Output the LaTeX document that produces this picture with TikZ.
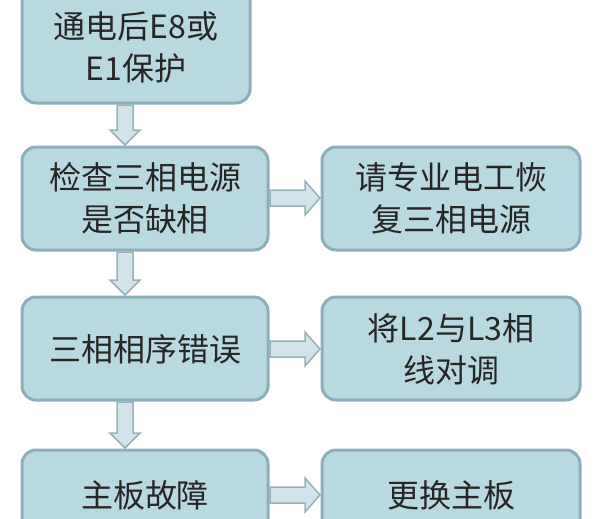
\documentclass[tikz,border=0pt]{standalone}
\usepackage{fontspec}
\setmainfont{Noto Sans CJK SC}
\usetikzlibrary{calc}
\definecolor{boxfill}{HTML}{B9D9E1}
\definecolor{boxline}{HTML}{8AAEBA}
\definecolor{arrfill}{HTML}{D2E4EA}
\definecolor{arrline}{HTML}{98B0B8}
\tikzset{
  box/.style={draw=boxline, line width=3pt, fill=boxfill, rounded corners=14pt},
  lbl/.style={font=\fontsize{32}{42}\selectfont, align=center, text=black!85},
  blk/.style={draw=arrline, line width=1.5pt, fill=arrfill, line join=miter}
}
\newcommand{\harr}[2]{%
  \draw[blk] ($(#1.east)+(0,-8)$) -- ($(#2.west)+(-15,-8)$) -- ($(#2.west)+(-15,-17)$) -- ($(#2.west)$)
   -- ($(#2.west)+(-15,17)$) -- ($(#2.west)+(-15,8)$) -- ($(#1.east)+(0,8)$) -- cycle;}
\newcommand{\varr}[2]{%
  \draw[blk] ($(#1.south)+(-8,0)$) -- ($(#2.north)+(-8,15)$) -- ($(#2.north)+(-15,15)$) -- ($(#2.north)$)
   -- ($(#2.north)+(15,15)$) -- ($(#2.north)+(8,15)$) -- ($(#1.south)+(8,0)$) -- cycle;}
\begin{document}
\begin{tikzpicture}[x=1pt,y=-1pt]
\useasboundingbox (0,0) rectangle (600,519);
\clip (0,0) rectangle (600,519);
\draw[box] (22,-20) rectangle (250,103); \coordinate (b1) at (125,103);
\node[lbl] (t1) at (136,47) {通电后E8或\\E1保护};
\path (b1) node[inner sep=0, minimum size=0] (n1) {};
\draw[box] (22,147) rectangle (268,250);
\node[lbl] (t2) at (145,198) {检查三相电源\\是否缺相};
\draw[box] (22,297) rectangle (268,400);
\node[lbl] (t3) at (145,349) {三相相序错误};
\draw[box] (22,450) rectangle (268,560);
\node[lbl] (t4) at (145,495) {主板故障};
\draw[box] (322,147) rectangle (580,250);
\node[lbl] (r1) at (451,198) {请专业电工恢\\复三相电源};
\draw[box] (322,297) rectangle (580,400);
\node[lbl] (r2) at (451,349) {将L2与L3相\\线对调};
\draw[box] (322,450) rectangle (580,560);
\node[lbl] (r3) at (451,495) {更换主板};
% anchor coordinates for connectors
\coordinate (a1) at (125,105); \coordinate (a2) at (125,145);
\coordinate (a3) at (125,252); \coordinate (a4) at (125,295);
\coordinate (a5) at (125,402); \coordinate (a6) at (125,448);
\foreach \s/\e in {a1/a2,a3/a4,a5/a6}{
  \draw[blk] ($(\s)+(-8,0)$) -- ($(\e)+(-8,-15)$) -- ($(\e)+(-15,-15)$) -- (\e)
   -- ($(\e)+(15,-15)$) -- ($(\e)+(8,-15)$) -- ($(\s)+(8,0)$) -- cycle;}
\foreach \y in {198,349,495}{
  \coordinate (hs) at (270,\y); \coordinate (he) at (320,\y);
  \draw[blk] ($(hs)+(0,-8)$) -- ($(he)+(-15,-8)$) -- ($(he)+(-15,-17)$) -- (he)
   -- ($(he)+(-15,17)$) -- ($(he)+(-15,8)$) -- ($(hs)+(0,8)$) -- cycle;}
\end{tikzpicture}
\end{document}
